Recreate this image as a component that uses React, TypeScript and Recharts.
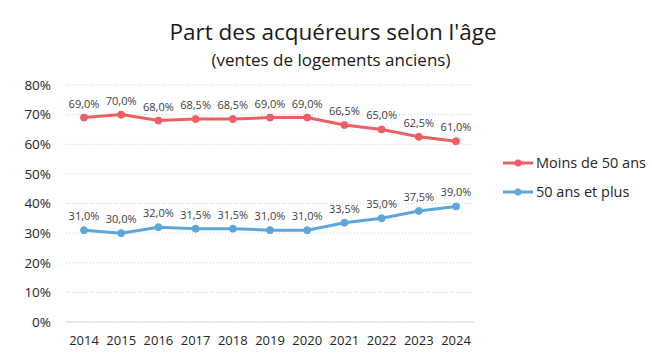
import React from "react";
import { LineChart, Line, XAxis, YAxis, CartesianGrid, LabelList } from "recharts";

const years = ["2014", "2015", "2016", "2017", "2018", "2019", "2020", "2021", "2022", "2023", "2024"];
const moins50 = [69.0, 70.0, 68.0, 68.5, 68.5, 69.0, 69.0, 66.5, 65.0, 62.5, 61.0];
const plus50 = [31.0, 30.0, 32.0, 31.5, 31.5, 31.0, 31.0, 33.5, 35.0, 37.5, 39.0];
const yTicks = [0, 10, 20, 30, 40, 50, 60, 70, 80];
const seriesNames = ["Moins de 50 ans", "50 ans et plus"];
const colors = ["#EE5E63", "#5DA6DC"];

const data = years.map((y, i) => ({ year: y, moins: moins50[i], plus: plus50[i] }));

const FONT = "'Open Sans', sans-serif";
const fmt = (v: number) => v.toFixed(1).replace(".", ",") + "%";

const LegendBox = () => (
  <svg width={152} height={60} style={{ position: "absolute", left: 500, top: 150 }}>
    {seriesNames.map((n, i) => (
      <g key={n} transform={`translate(0, ${i * 29})`}>
        <line x1={3} x2={33} y1={13} y2={13} stroke={colors[i]} strokeWidth={3} />
        <circle cx={18} cy={13} r={3.5} fill={colors[i]} />
        <text x={36} y={18} fontSize={14.5} fill="#262626" fontFamily={FONT}>{n}</text>
      </g>
    ))}
  </svg>
);

export default function App() {
  return (
    <div style={{ position: "absolute", left: 0, top: 0, width: 652, height: 361, background: "#fff", fontFamily: FONT }}>
      <div style={{ position: "absolute", left: 0, width: 666, top: 17, textAlign: "center", fontSize: 22.5, lineHeight: "30px", color: "#1a1a1a" }}>
        Part des acquéreurs selon l'âge
      </div>
      <div style={{ position: "absolute", left: 0, width: 662, top: 48, textAlign: "center", fontSize: 17, lineHeight: "24px", color: "#1a1a1a" }}>
        (ventes de logements anciens)
      </div>
      <LineChart width={652} height={361} data={data} margin={{ top: 85, right: 178, bottom: 0, left: 0 }} style={{ position: "absolute", left: 0, top: 0 }}>
        <CartesianGrid vertical={false} stroke="#D0D0D0" strokeDasharray="1 2" />
        <XAxis
          dataKey="year"
          padding={{ left: 18, right: 18 }}
          axisLine={{ stroke: "#D9D9D9", strokeWidth: 1 }}
          tickLine={false}
          tickSize={0}
          tickMargin={14}
          tick={{ fontSize: 13, fill: "#262626", fontFamily: FONT }}
          height={39}
        />
        <YAxis
          domain={[0, 80]}
          ticks={yTicks}
          interval={0}
          tickFormatter={(v: number) => v + "%"}
          axisLine={false}
          tickLine={false}
          tickSize={0}
          tickMargin={15}
          width={66}
          tick={{ fontSize: 13.5, fill: "#262626", fontFamily: FONT }}
        />
        <Line dataKey="moins" name={seriesNames[0]} stroke={colors[0]} strokeWidth={3} dot={{ r: 3.5, fill: colors[0], stroke: colors[0], strokeWidth: 1 }} isAnimationActive={false}>
          <LabelList dataKey="moins" position="top" offset={10} formatter={fmt} style={{ fontSize: 11, fill: "#404040", fontFamily: FONT }} />
        </Line>
        <Line dataKey="plus" name={seriesNames[1]} stroke={colors[1]} strokeWidth={3} dot={{ r: 3.5, fill: colors[1], stroke: colors[1], strokeWidth: 1 }} isAnimationActive={false}>
          <LabelList dataKey="plus" position="top" offset={10} formatter={fmt} style={{ fontSize: 11, fill: "#404040", fontFamily: FONT }} />
        </Line>
      </LineChart>
      <LegendBox />
    </div>
  );
}
